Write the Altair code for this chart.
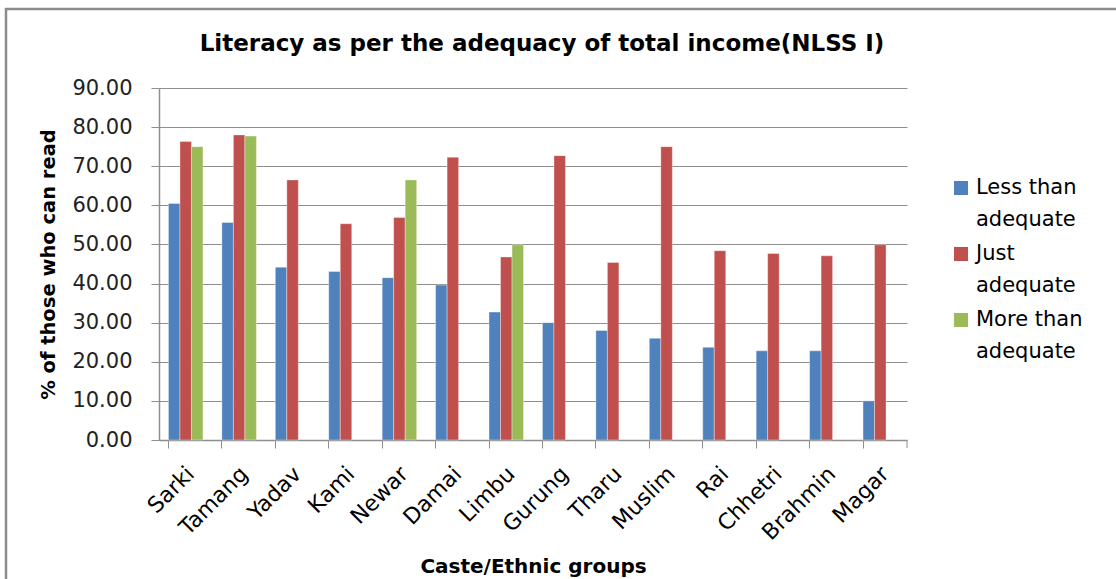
import altair as alt
import pandas as pd

# Caste/ethnic groups in plotting order
groups = ["Sarki", "Tamang", "Yadav", "Kami", "Newar", "Damai", "Limbu",
          "Gurung", "Tharu", "Muslim", "Rai", "Chhetri", "Brahmin", "Magar"]

series = ["Less than adequate", "Just adequate", "More than adequate"]
legend_line1 = ["Less than", "Just", "More than"]
legend_line2 = ["adequate", "adequate", "adequate"]

# % of those who can read, by adequacy of total income (None = no data)
less_than = [60.5, 55.6, 44.2, 43.1, 41.5, 39.6, 32.7,
             30.0, 28.0, 26.0, 23.7, 22.8, 22.8, 10.0]
just = [76.3, 78.0, 66.5, 55.3, 56.9, 72.3, 46.8,
        72.7, 45.4, 75.0, 48.4, 47.7, 47.1, 49.9]
more_than = [75.0, 77.7, None, None, 66.5, None, 49.9,
             None, None, None, None, None, None, None]

y_ticks = [0, 10, 20, 30, 40, 50, 60, 70, 80, 90]
colors = ["#4F81BD", "#C0504D", "#9BBB59"]

title_text = "Literacy as per the adequacy of total income(NLSS I)"

rows = []
for name, vals in zip(series, [less_than, just, more_than]):
    for g, v in zip(groups, vals):
        if v is not None:
            rows.append({"group": g, "series": name, "value": v})
df = pd.DataFrame(rows)

legend_df = pd.DataFrame({"series": series, "line1": legend_line1, "line2": legend_line2})

FONT = "DejaVu Sans"
GRID = "#8E8E8E"
W, H = 748, 352

color_enc = alt.Color(
    "series:N", sort=series,
    scale=alt.Scale(domain=series, range=colors), legend=None,
)

x_enc = alt.X(
    "group:N", sort=groups,
    scale=alt.Scale(paddingInner=0.354, paddingOuter=0.177),
    axis=alt.Axis(
        title="Caste/Ethnic groups", titleFont=FONT, titleFontSize=20,
        titleFontWeight="bold", titleColor="#000", titleY=132,
        titleBaseline="alphabetic",
        labelAngle=-45, labelAlign="right", labelBaseline="middle",
        labelFont=FONT, labelFontSize=22, labelColor="#000",
        labelPadding=22, labelOffset=5,
        bandPosition=0, ticks=True, tickSize=8, tickColor=GRID,
        domainColor=GRID, domainWidth=1.5, grid=False,
    ),
)

y_enc = alt.Y(
    "value:Q",
    scale=alt.Scale(domain=[0, 90], nice=False, zero=True),
    axis=alt.Axis(
        values=y_ticks, format=".2f",
        title="% of those who can read", titleFont=FONT, titleFontSize=19.5,
        titleFontWeight="bold", titleColor="#000", titleX=-105,
        titleBaseline="alphabetic", titleAngle=-90,
        labelFont=FONT, labelFontSize=21, labelColor="#222", labelPadding=19,
        tickSize=8, tickColor=GRID, domainColor=GRID, domainWidth=1.5,
        grid=True, gridColor=GRID, gridWidth=1.2,
    ),
)

bars = alt.Chart(df).mark_bar(stroke="#ffffff", strokeWidth=0.6, strokeOpacity=0.6).encode(
    x=x_enc,
    xOffset=alt.XOffset("series:N", sort=series,
                        scale=alt.Scale(domain=series, paddingInner=0, paddingOuter=0)),
    y=y_enc,
    color=color_enc,
)

# closing tick at the right end of the category axis
end_tick = alt.Chart(alt.Data(values=[{}])).mark_rule(color=GRID, strokeWidth=1).encode(
    x=alt.value(W), y=alt.value(H), y2=alt.value(H + 8)
)

# outer chart frame
frame = alt.Chart(alt.Data(values=[{}])).mark_rect(
    fill="transparent", stroke="#8C8C8C", strokeWidth=2.5
).encode(
    x=alt.value(-153), x2=alt.value(1100), y=alt.value(-79), y2=alt.value(620)
)

# chart title
title = alt.Chart(alt.Data(values=[{"t": title_text}])).mark_text(
    font=FONT, fontSize=23, fontWeight="bold", color="#000",
    align="center", baseline="alphabetic",
).encode(x=alt.value(W / 2 + 9), y=alt.value(-37), text="t:N")

# legend: colour square plus two-line label per series
legend_y = alt.Y("series:N", sort=series,
                 scale=alt.Scale(type="point", range=[100, 232], padding=0),
                 axis=None)
legend_sq = alt.Chart(legend_df).mark_square(size=196, opacity=1).encode(
    x=alt.value(802), y=legend_y, color=color_enc,
)
legend_t1 = alt.Chart(legend_df).mark_text(
    font=FONT, fontSize=21, color="#000", align="left", baseline="middle"
).encode(x=alt.value(817), y=legend_y, text="line1:N")
legend_t2 = alt.Chart(legend_df).mark_text(
    font=FONT, fontSize=21, color="#000", align="left", baseline="middle", dy=32
).encode(x=alt.value(817), y=legend_y, text="line2:N")

chart = alt.layer(
    frame, bars, end_tick, title, legend_sq, legend_t1, legend_t2
).resolve_scale(y="independent").properties(
    width=W, height=H,
    padding={"left": 159, "top": 88, "right": 209, "bottom": 139},
    autosize=alt.AutoSizeParams(type="none"),
    background="white",
).configure_view(stroke=None)

chart.save("out.html", embed_options={"renderer": "svg", "actions": False})
